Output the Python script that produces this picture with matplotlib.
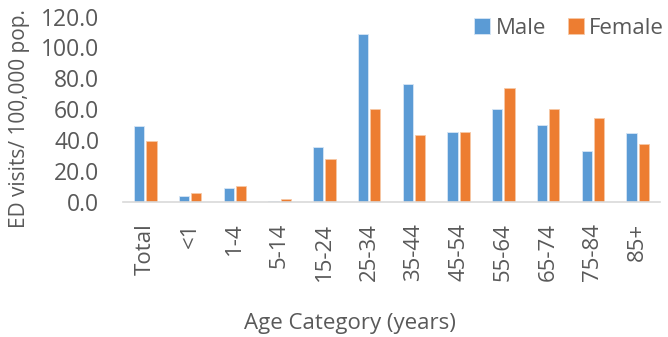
import numpy as np
import matplotlib.pyplot as plt

plt.rcParams['font.family'] = ['Open Sans', 'DejaVu Sans']

categories = ['Total', '<1', '1-4', '5-14', '15-24', '25-34', '35-44',
              '45-54', '55-64', '65-74', '75-84', '85+']
male = [49.3, 3.9, 9.0, 0.4, 35.3, 108.4, 76.1, 45.5, 59.9, 49.8, 33.0, 44.4]
female = [39.4, 5.8, 10.1, 2.1, 27.6, 59.9, 43.1, 45.2, 73.7, 59.9, 54.3, 37.5]
yticks = [0, 20, 40, 60, 80, 100, 120]

text_color = '#595959'
blue = '#5B9BD5'
orange = '#ED7D31'

fig = plt.figure(figsize=(6.68, 3.37), dpi=100)
ax = fig.add_axes([0.184, 0.4006, 0.804, 0.5504])

x = np.arange(len(categories))
w = 0.23
ax.bar(x - w / 2 - 0.022, male, w, color=blue, edgecolor='#d6e6f5', linewidth=0.6, label='Male')
ax.bar(x + w / 2 + 0.022, female, w, color=orange, edgecolor='#f7c8a6', linewidth=0.6, label='Female')

ax.set_xlim(-0.5, 11.5)
ax.set_ylim(0, 120)
ax.set_yticks(yticks)
ax.set_yticklabels([f'{v:.1f}' for v in yticks])
ax.set_xticks(x)
ax.set_xticklabels(categories, rotation=90)

for s in ['top', 'right', 'left']:
    ax.spines[s].set_visible(False)
ax.spines['bottom'].set_color('#d9d9d9')
ax.spines['bottom'].set_linewidth(1.2)

ax.tick_params(axis='y', length=0, pad=17, labelsize=16.5, labelcolor=text_color)
ax.tick_params(axis='x', length=0, pad=15, labelsize=16, labelcolor=text_color)

ax.set_ylabel('ED visits/ 100,000 pop.', fontsize=15, color=text_color)
ax.yaxis.set_label_coords(-0.173, 0.45)
ax.set_xlabel('Age Category (years)', fontsize=16, color=text_color)
ax.xaxis.set_label_coords(0.423, -0.6)

leg = ax.legend(loc='upper right', bbox_to_anchor=(1.045, 1.1), ncol=2, frameon=False,
                fontsize=16, handlelength=0.7, handleheight=0.7, columnspacing=1.0,
                handletextpad=0.25)
for t in leg.get_texts():
    t.set_color(text_color)

fig.savefig('out.png', dpi=100)
